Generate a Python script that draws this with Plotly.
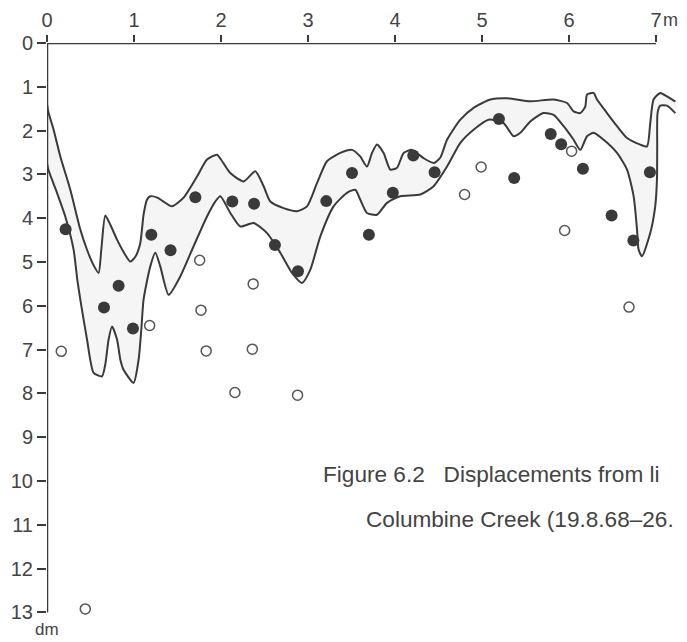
import plotly.graph_objects as go

# ---- data (distance along line in m, displacement in dm) ----
upper_x = [0.0, 0.015, 0.076, 0.153, 0.268, 0.383, 0.46, 0.532, 0.593, 0.624, 0.67, 0.728, 0.805, 0.877,
           0.957, 1.015, 1.072, 1.11, 1.149, 1.187, 1.268, 1.34, 1.437, 1.57, 1.724, 1.839, 1.954, 2.0,
           2.107, 2.26, 2.394, 2.49, 2.567, 2.72, 2.874, 2.989, 3.103, 3.218, 3.371, 3.506, 3.6, 3.678,
           3.736, 3.793, 3.869, 3.946, 4.023, 4.099, 4.195, 4.329, 4.444, 4.52, 4.598, 4.751, 4.903,
           5.095, 5.287, 5.555, 5.823, 5.977, 6.053, 6.13, 6.187, 6.207, 6.283, 6.322, 6.437, 6.552,
           6.667, 6.82, 6.897, 6.934, 6.972, 7.049, 7.126, 7.222]
upper_y = [1.39, 1.57, 1.98, 2.59, 3.35, 4.26, 4.72, 5.06, 5.25, 4.72, 3.94, 4.15, 4.49, 4.76,
           4.99, 4.88, 4.57, 3.92, 3.58, 3.50, 3.53, 3.62, 3.73, 3.53, 3.05, 2.66, 2.55, 2.66,
           2.97, 3.16, 2.93, 3.27, 3.62, 3.77, 3.84, 3.73, 3.20, 2.70, 2.51, 2.44, 2.59, 2.82,
           2.51, 2.32, 2.51, 2.89, 2.85, 2.51, 2.44, 2.63, 2.74, 2.62, 2.21, 1.75, 1.48,
           1.29, 1.26, 1.33, 1.29, 1.37, 1.56, 1.60, 1.45, 1.18, 1.14, 1.29, 1.60, 1.90,
           2.17, 2.32, 2.36, 1.83, 1.29, 1.14, 1.22, 1.34]

lower_x = [0.0, 0.015, 0.115, 0.21, 0.306, 0.348, 0.383, 0.46, 0.536, 0.632, 0.67, 0.708, 0.747, 0.805,
           0.843, 0.88, 0.995, 1.053, 1.084, 1.11, 1.187, 1.245, 1.302, 1.398, 1.532, 1.685, 1.839,
           1.934, 1.992, 2.107, 2.222, 2.375, 2.529, 2.682, 2.816, 2.931, 3.026, 3.141, 3.294, 3.448,
           3.544, 3.601, 3.678, 3.793, 3.908, 4.061, 4.291, 4.444, 4.598, 4.751, 4.903, 5.076, 5.248,
           5.363, 5.44, 5.555, 5.708, 5.823, 5.938, 6.053, 6.13, 6.207, 6.283, 6.398, 6.552, 6.667,
           6.743, 6.782, 6.80, 6.839, 6.934, 6.991, 7.011, 7.014, 7.018, 7.049, 7.126, 7.222]
lower_y = [2.73, 2.89, 3.42, 3.96, 4.72, 5.40, 5.86, 6.77, 7.53, 7.61, 7.34, 6.77, 6.47, 6.77,
           7.23, 7.46, 7.76, 7.23, 6.54, 5.86, 5.10, 4.79, 5.10, 5.75, 5.33, 4.64, 3.96,
           3.62, 3.50, 3.88, 4.19, 4.11, 4.34, 4.79, 5.25, 5.48, 5.18, 4.42, 3.73, 3.42,
           3.35, 3.58, 3.88, 3.92, 3.65, 3.50, 3.46, 3.27, 2.82, 2.28, 1.98, 1.75, 1.83,
           2.13, 2.05, 1.79, 1.60, 1.64, 1.90, 2.21, 2.44, 2.13, 2.05, 2.21, 2.51, 2.89,
           3.50, 4.26, 4.72, 4.87, 4.34, 3.73, 3.12, 2.36, 1.60, 1.43, 1.43, 1.60]

filled_x = [0.214, 0.655, 0.823, 0.988, 1.199, 1.42, 1.705, 2.13, 2.38, 2.62, 2.885, 3.21, 3.506,
            3.70, 3.975, 4.21, 4.455, 5.195, 5.37, 5.79, 5.91, 6.16, 6.49, 6.74, 6.93]
filled_y = [4.25, 6.04, 5.54, 6.52, 4.38, 4.73, 3.52, 3.62, 3.67, 4.61, 5.21, 3.61, 2.97,
            4.38, 3.42, 2.57, 2.95, 1.735, 3.08, 2.08, 2.31, 2.87, 3.94, 4.51, 2.95]

open_x = [0.164, 0.44, 1.18, 1.755, 1.77, 1.83, 2.16, 2.37, 2.36, 2.88, 4.80, 4.99, 5.95, 6.03, 6.69]
open_y = [7.04, 12.92, 6.45, 4.96, 6.10, 7.03, 7.98, 5.50, 6.99, 8.04, 3.46, 2.83, 4.28, 2.47, 6.03]

x_ticks = [0, 1, 2, 3, 4, 5, 6, 7]
y_ticks = list(range(0, 14))

caption_1 = "Figure 6.2   Displacements from li"
caption_2 = "Columbine Creek (19.8.68\u201326."

INK = "#3a3a3a"
TXT = "#444444"

fig = go.Figure()

# stippled band
fig.add_trace(go.Scatter(
    x=upper_x + lower_x[::-1], y=upper_y + lower_y[::-1],
    mode="lines", fill="toself", fillcolor="rgba(0,0,0,0.04)",
    line=dict(width=0, shape="spline", smoothing=0.6), hoverinfo="skip", showlegend=False))

for xs, ys in ((upper_x, upper_y), (lower_x, lower_y)):
    fig.add_trace(go.Scatter(x=xs, y=ys, mode="lines",
                             line=dict(color=INK, width=2, shape="spline", smoothing=0.6),
                             showlegend=False, cliponaxis=False))

fig.add_trace(go.Scatter(x=filled_x, y=filled_y, mode="markers",
                         marker=dict(symbol="circle", size=12, color=INK, line=dict(width=0)),
                         showlegend=False, cliponaxis=False))
fig.add_trace(go.Scatter(x=open_x, y=open_y, mode="markers",
                         marker=dict(symbol="circle-open", size=10, color="#555555", line=dict(width=1.5)),
                         showlegend=False, cliponaxis=False))

# axis lines
fig.add_shape(type="line", xref="x", yref="y", x0=0, x1=7, y0=0, y1=0,
              line=dict(color=INK, width=2.5))
fig.add_shape(type="line", xref="x", yref="y", x0=0, x1=0, y0=0, y1=13,
              line=dict(color=INK, width=2.5))

# unit labels
fig.add_annotation(x=7.165, y=1.038, xref="x", yref="paper", text="m", showarrow=False,
                   yanchor="middle", borderpad=0,
                   font=dict(family="Liberation Sans", size=18, color=TXT))
fig.add_annotation(x=0.0, y=13.39, xref="x", yref="y", text="dm", showarrow=False,
                   font=dict(family="Liberation Sans", size=17, color=TXT))

cap_font = dict(family="Liberation Sans", size=22.6, color=TXT)
fig.add_annotation(x=3.157, y=9.86, xref="x", yref="y", text=caption_1, showarrow=False,
                   xanchor="left", yanchor="middle", font=cap_font, borderpad=0)
fig.add_annotation(x=3.66, y=10.88, xref="x", yref="y", text=caption_2, showarrow=False,
                   xanchor="left", yanchor="middle", font=cap_font, borderpad=0)

fig.update_layout(
    width=679, height=634,
    margin=dict(l=39, r=0, t=35, b=3, autoexpand=False),
    paper_bgcolor="white", plot_bgcolor="white",
    font=dict(family="Liberation Sans", size=20, color=TXT),
    xaxis=dict(range=[0, 640 / 87.0], side="top", tickvals=x_ticks, ticks="outside", ticklen=7,
               tickwidth=2, tickcolor=INK, showgrid=False, zeroline=False, showline=False,
               ticklabelstandoff=0, automargin=False,
               tickfont=dict(size=20, color=TXT)),
    yaxis=dict(range=[596 / 43.8, 0], tickvals=y_ticks, ticks="outside", ticklen=9,
               tickwidth=2, tickcolor=INK, showgrid=False, zeroline=False, showline=False,
               ticklabelstandoff=0, automargin=False,
               tickfont=dict(size=20, color=TXT)),
)

fig.write_html("out.html")
